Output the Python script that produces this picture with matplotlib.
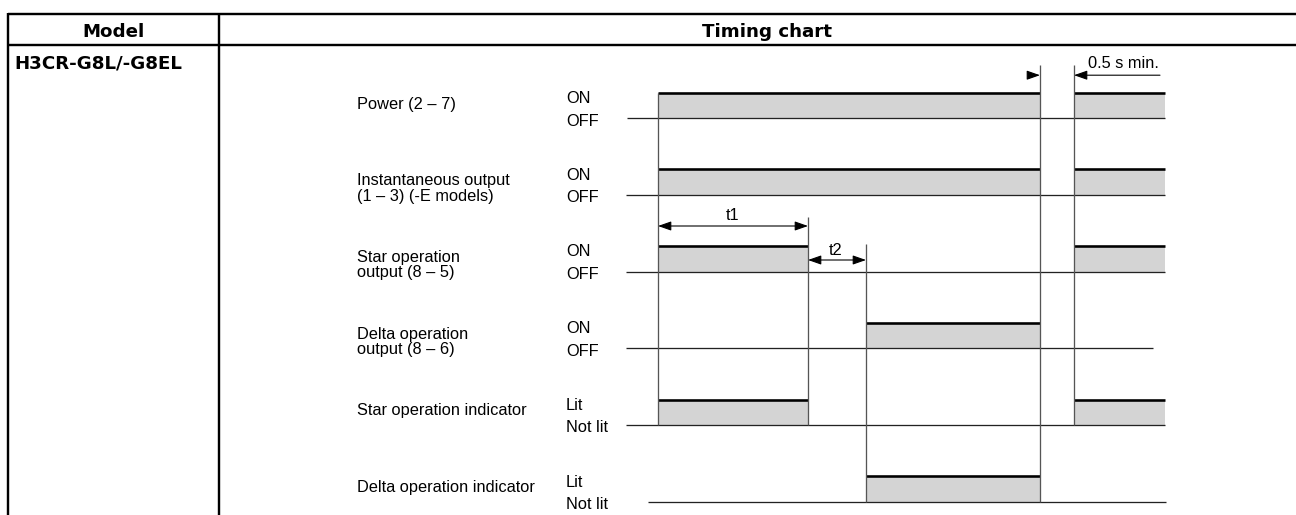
import matplotlib
matplotlib.use("Agg")
import matplotlib.pyplot as plt
from matplotlib.patches import Rectangle, FancyArrowPatch, ArrowStyle

# ---------------- data ----------------
header_left = "Model"
header_right = "Timing chart"
model_name = "H3CR-G8L/-G8EL"

signal_labels = [
    ["Power (2 – 7)"],
    ["Instantaneous output", "(1 – 3) (-E models)"],
    ["Star operation", "output (8 – 5)"],
    ["Delta operation", "output (8 – 6)"],
    ["Star operation indicator"],
    ["Delta operation indicator"],
]
state_high = ["ON", "ON", "ON", "ON", "Lit", "Lit"]
state_low = ["OFF", "OFF", "OFF", "OFF", "Not lit", "Not lit"]

# timing (relative time units, 0 = power on)
T_ON = 0
T1 = 150
T2 = 58
T_OFF = 382
T_RESTART = 416
T_END = 507

high_intervals = [
    [(T_ON, T_OFF), (T_RESTART, T_END)],
    [(T_ON, T_OFF), (T_RESTART, T_END)],
    [(T_ON, T_ON + T1), (T_RESTART, T_END)],
    [(T_ON + T1 + T2, T_OFF)],
    [(T_ON, T_ON + T1), (T_RESTART, T_END)],
    [(T_ON + T1 + T2, T_OFF)],
]
baseline_span = [(-31, 507), (-32, 507), (-32, 507), (-32, 495), (-32, 507), (-10, 508)]

# ---------------- layout ----------------
W, H = 1296, 515
PT = 0.72  # points per pixel at dpi 100
X0 = 658.0       # pixel x of time 0
XS = 1.0         # pixels per time unit
ROW_B0 = 118.0   # baseline (low level) of first row
ROW_DY = 76.75
AMP = 25.5

def tx(t):
    return X0 + XS * t

def base(k):
    return ROW_B0 + ROW_DY * k

def top(k):
    return base(k) - AMP

fig = plt.figure(figsize=(W / 100, H / 100), dpi=100)
ax = fig.add_axes([0, 0, 1, 1])
ax.set_xlim(0, W)
ax.set_ylim(H, 0)
ax.axis("off")

FONT = "Liberation Sans"
FS = 16.4 * PT
BFONT = "DejaVu Sans"
BFS = 18.3 * PT

# table
tcol = "#000000"
tlw = 2.4 * PT
ax.plot([8, W], [14.3, 14.3], color=tcol, lw=tlw, solid_capstyle="butt")
ax.plot([8, W], [45.2, 45.2], color=tcol, lw=tlw, solid_capstyle="butt")
ax.plot([8.2, 8.2], [13.1, H], color=tcol, lw=tlw, solid_capstyle="butt")
ax.plot([219.2, 219.2], [13.1, H], color=tcol, lw=tlw, solid_capstyle="butt")

ax.text(113.5, 37.3, header_left, family=BFONT, weight="bold", fontsize=BFS,
        ha="center", va="baseline")
ax.text(767.5, 36.7, header_right, family=BFONT, weight="bold", fontsize=BFS,
        ha="center", va="baseline")
ax.text(14, 69, model_name, family=BFONT, weight="bold", fontsize=BFS,
        ha="left", va="baseline")

# signals
fill_col = "#d4d4d4"
for k in range(len(signal_labels)):
    b = base(k)
    t = top(k)
    lines = signal_labels[k]
    ax.text(357, b - 9.5, lines[0], family=FONT, fontsize=FS, ha="left", va="baseline")
    if len(lines) > 1:
        ax.text(357, b + 6.0, lines[1], family=FONT, fontsize=FS, ha="left", va="baseline")
    ax.text(566, b - 15.0, state_high[k], family=FONT, fontsize=FS, ha="left", va="baseline")
    ax.text(566, b + 7.5, state_low[k], family=FONT, fontsize=FS, ha="left", va="baseline")
    s0, s1 = baseline_span[k]
    ax.plot([tx(s0), tx(s1)], [b, b], color="#222222", lw=1.3 * PT, solid_capstyle="butt", zorder=3)
    for (a, e) in high_intervals[k]:
        ax.add_patch(Rectangle((tx(a), t), tx(e) - tx(a), AMP, facecolor=fill_col,
                               edgecolor="none", zorder=2))
        ax.plot([tx(a), tx(e)], [t, t], color="#000000", lw=2.6 * PT, solid_capstyle="butt", zorder=4)

# vertical guide lines: (time, top pixel, last row index)
arrow_t1_y = top(2) - 20.0
arrow_t2_y = top(2) + 14.0
arrow_min_y = top(0) - 17.3
guides = [
    (T_ON, top(0), 4),
    (T_ON + T1, arrow_t1_y - 9.0, 4),
    (T_ON + T1 + T2, arrow_t2_y - 16.0, 5),
    (T_OFF, arrow_min_y - 10.7, 5),
    (T_RESTART, arrow_min_y - 10.7, 4),
]
for (tt, ytop, kb) in guides:
    ax.plot([tx(tt), tx(tt)], [ytop, base(kb)], color="#555555", lw=1.3 * PT,
            solid_capstyle="butt", zorder=5)

# dimension arrows
def dim_arrow(x1, x2, y, style):
    st = ArrowStyle(style, head_length=0.8, head_width=0.28)
    p = FancyArrowPatch((x1, y), (x2, y), arrowstyle=st, mutation_scale=10,
                        color="#000000", lw=1.1 * PT, shrinkA=0, shrinkB=0, zorder=6)
    ax.add_patch(p)

dim_arrow(tx(T_ON), tx(T_ON + T1), arrow_t1_y, "<|-|>")
ax.text(tx(T_ON + T1 / 2) - 0.5, arrow_t1_y - 6, "t1", family=FONT, fontsize=FS,
        ha="center", va="baseline")
dim_arrow(tx(T_ON + T1), tx(T_ON + T1 + T2), arrow_t2_y, "<|-|>")
ax.text(tx(T_ON + T1 + T2 / 2) - 1.5, arrow_t2_y - 5, "t2", family=FONT, fontsize=FS,
        ha="center", va="baseline")
dim_arrow(tx(T_OFF) - 8.3, tx(T_OFF), arrow_min_y, "-|>")
dim_arrow(tx(T_RESTART) + 86, tx(T_RESTART), arrow_min_y, "-|>")
ax.text(1087.7, 68.3, "0.5 s min.", family=FONT, fontsize=FS, ha="left", va="baseline")

fig.savefig("out.png", dpi=100)
